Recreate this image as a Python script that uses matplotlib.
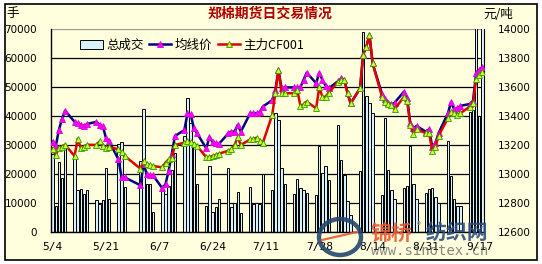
import matplotlib
matplotlib.use("Agg")
import numpy as np
import pandas as pd
import matplotlib.pyplot as plt
from matplotlib.patches import Rectangle, Ellipse

plt.rcParams['font.family'] = ['Noto Sans CJK SC', 'DejaVu Sans']

# trading days (Dragon Boat holiday closed 5/28-5/29)
holidays = ["2009-05-28", "2009-05-29"]
dates = pd.bdate_range("2009-05-04", "2009-09-18")
dates = dates[~dates.isin(pd.to_datetime(holidays))]

# 总成交 (手)
volume = [
    27000, 9000, 24000, 18500, 29500,
    26500, 14500, 15000, 13200, 14500,
    11000, 9800, 11000, 22000, 11500,
    30500, 31000, 15600,
    24500, 42300, 16500, 16500, 7000,
    14100, 13000, 15900, 21400, 27200,
    33100, 46100, 37500, 30000, 16500,
    9000, 22800, 7000, 8500, 11500,
    22000, 8600, 10000, 13800, 6500,
    15600, 9500, 10000, 9600, 20000,
    14500, 40900, 38600, 22000, 16400,
    13000, 18300, 15300, 14500, 13600,
    12800, 29800, 20500, 22900, 17800,
    36900, 25000, 19500, 10600, 6000,
    21100, 69000, 47000, 44400, 41100,
    12600, 39200, 21500, 14500, 11500,
    15300, 15800, 29700, 16500, 11500,
    13300, 15000, 15100, 12200, 10000,
    31500, 19300, 11500, 8800, 8900,
    41500, 42100, 75000, 40000, 75000,
]

# 均线价 (元/吨)
avg_price = [
    13223, 13190, 13303, 13380, 13437,
    13360, 13350, 13340, 13331, 13345,
    13360, 13338, 13330, 13250, 13225,
    13101, 12977, 12977,
    12922, 13071, 13000, 12991, 12991,
    12901, 12931, 13023, 13140, 13262,
    13303, 13418, 13411, 13320, 13282,
    13177, 13257, 13220, 13212, 13207,
    13280, 13292, 13292, 13338, 13292,
    13419, 13419, 13419, 13425, 13464,
    13510, 13579, 13717, 13591, 13597,
    13597, 13597, 13600, 13650, 13699,
    13626, 13699, 13648, 13610, 13591,
    13640, 13660, 13648, 13560, 13487,
    13591, 13830, 13878, 13959, 13763,
    13552, 13520, 13492, 13480, 13492,
    13568, 13522, 13354, 13315, 13331,
    13292, 13308, 13188, 13212, 13281,
    13419, 13495, 13446, 13453, 13470,
    13483, 13505, 13694, 13717, 13740,
]

# 主力CF001 (元/吨)
main_price = [
    13175, 13130, 13180, 13186, 13202,
    13124, 13243, 13180, 13185, 13202,
    13200, 13225, 13190, 13180, 13186,
    13170, 13150, 13124,
    13037, 13088, 13070, 13060, 13055,
    13046, 13079, 13101, 13108, 13200,
    13216, 13225, 13220, 13210, 13195,
    13115, 13115, 13125, 13131, 13140,
    13160, 13170, 13200, 13253, 13200,
    13239, 13239, 13250, 13230, 13214,
    13407, 13560, 13717, 13557, 13557,
    13557, 13579, 13469, 13480, 13499,
    13453, 13597, 13533, 13533, 13560,
    13637, 13648, 13648, 13557, 13487,
    13591, 13821, 13878, 13959, 13763,
    13533, 13500, 13483, 13475, 13446,
    13533, 13505, 13338, 13276, 13308,
    13281, 13281, 13161, 13188, 13262,
    13384, 13430, 13419, 13410, 13420,
    13464, 13492, 13653, 13683, 13706,
]

tick_dates = pd.date_range("2009-05-04", periods=9, freq="17D")
tick_labels = [f"{d.month}/{d.day}" for d in tick_dates]
vol_ticks = list(range(0, 70001, 10000))
price_ticks = list(range(12600, 14001, 200))

BG = "#FFFFDD"
BAR = "#D8F1FA"

W, H = 542, 264
fig = plt.figure(figsize=(W / 100, H / 100), dpi=100)
fig.patch.set_facecolor("white")

# outer frame
bg = fig.add_axes([0, 0, 1, 1], zorder=-5)
bg.set_xlim(0, W)
bg.set_ylim(H, 0)
bg.axis("off")
bg.add_patch(Rectangle((5, 4), 532, 256, facecolor=BG, edgecolor="black", lw=1.2))

x = (dates - dates[0]).days.values
tx = (tick_dates - dates[0]).days.values

ax = fig.add_axes([51 / W, 1 - 232 / H, 433 / W, 203 / H])
ax.set_facecolor(BG)
bars = ax.bar(x, volume, width=0.75, color=BAR, edgecolor="black", lw=0.7, zorder=2)
ax.set_xlim(-0.5, 137.5)
ax.set_ylim(0, 70000)
ax.set_yticks(vol_ticks)
ax.set_yticklabels([str(v) for v in vol_ticks], family="DejaVu Sans", fontsize=7.5)
ax.set_xticks(tx)
ax.set_xticklabels(tick_labels, family="DejaVu Sans Mono", fontsize=8)
ax.tick_params(axis="y", length=0, pad=10)
ax.tick_params(axis="x", length=0, pad=7)
ax.yaxis.grid(True, color="black", lw=0.9, zorder=1)
ax.get_ygridlines()[-1].set_color("#999999")
ax.set_axisbelow(True)
for s in ["left", "bottom"]:
    ax.spines[s].set_color("black")
    ax.spines[s].set_linewidth(1)
ax.spines["top"].set_visible(False)
ax.spines["right"].set_color("black")
ax.spines["right"].set_linewidth(0.8)

ax2 = ax.twinx()
ax2.set_ylim(12600, 14000)
ax2.set_yticks(price_ticks)
ax2.set_yticklabels([str(v) for v in price_ticks], family="DejaVu Sans", fontsize=7.5)
ax2.tick_params(axis="y", length=0, pad=10)
for s in ax2.spines.values():
    s.set_visible(False)
l1, = ax2.plot(x, avg_price, color="#000080", lw=1.8, marker="^", ms=5,
               mfc="#FF00FF", mec="#DD00DD", mew=0.6, zorder=3)
l2, = ax2.plot(x, main_price, color="#E00000", lw=1.8, marker="^", ms=5,
               mfc="#CCFF33", mec="#339900", mew=0.6, zorder=4)

leg = ax2.legend([bars, l1, l2], ["总成交", "均线价", "主力CF001"],
                 loc="center left", bbox_to_anchor=(0.067, 0.921), ncol=3,
                 frameon=False, fontsize=9, handlelength=1.8, handletextpad=0.3,
                 columnspacing=0.4, borderpad=0, borderaxespad=0, numpoints=1)
for t in leg.get_texts():
    t.set_color("black")

fig.text(270 / W, 1 - 14 / H, "郑棉期货日交易情况", ha="center", va="center",
         fontsize=10, fontweight="bold", color="#B00000")
fig.text(6 / W, 1 - 14 / H, "手", ha="left", va="center", fontsize=9)
fig.text(483 / W, 1 - 15 / H, "元/吨", ha="left", va="center", fontsize=9)

# site watermark
ov = fig.add_axes([0, 0, 1, 1], zorder=10)
ov.set_xlim(0, W)
ov.set_ylim(H, 0)
ov.axis("off")
ov.add_patch(Ellipse((340, 237), 42, 36, facecolor="none", edgecolor="#23466F", lw=3.2, alpha=0.9))
ov.plot([322, 357], [240, 232], color="#E9572F", lw=1.6, alpha=0.9)
ov.text(371, 233, "锦桥", ha="left", va="center", fontsize=15, fontweight="bold", color="#E9572F", alpha=0.9)
ov.text(417, 226, "®", ha="left", va="center", fontsize=6, color="#888888")
ov.text(426, 233, "纺织网", ha="left", va="center", fontsize=15, fontweight="bold", color="#2C4F80", alpha=0.9)
ov.text(430, 251, "www.sinotex.cn", ha="center", va="center", family="DejaVu Sans Mono",
        fontsize=10, color="#555555", alpha=0.7)

fig.savefig("out.png", dpi=100, facecolor=fig.get_facecolor())
